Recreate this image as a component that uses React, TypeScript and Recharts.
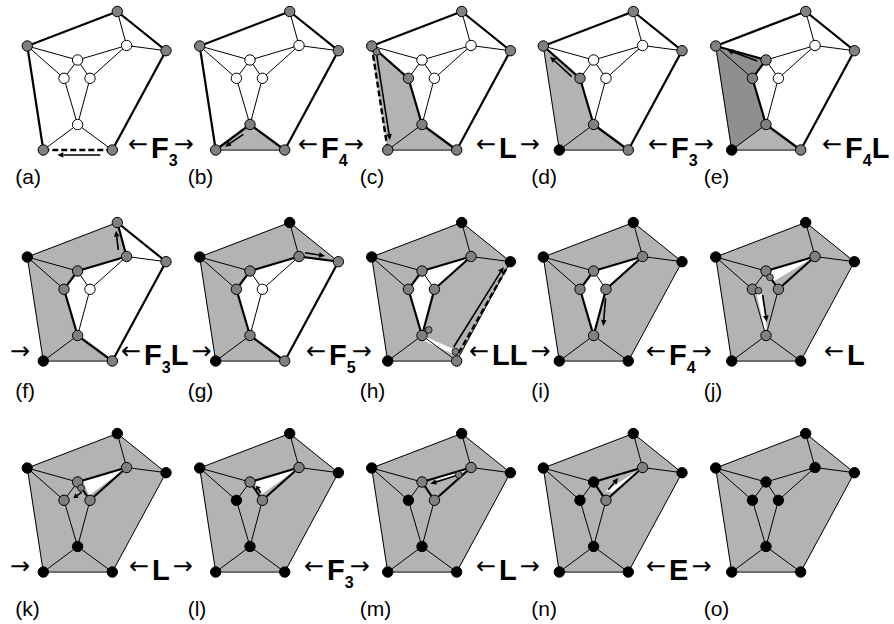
import { Scatter, ScatterChart, XAxis, YAxis } from "recharts";

const W = 894;
const H = 624;

// graph nodes: top, left, right, bottom-left, bottom-right,
// inner right, inner centre, inner left, inner mid, inner bottom
const nodeX = [74, -16, 122.7, 0, 69, 83.3, 34.3, 20.7, 46.7, 34.3];
const nodeY = [-138.5, -104, -99.3, 0, 0, -104.5, -90, -71.7, -71.7, -25.5];

const edges = [
  [1, 0], [0, 2], [2, 4], [4, 3], [3, 1], [0, 5], [2, 5], [5, 6], [1, 6],
  [1, 7], [6, 7], [6, 8], [5, 8], [7, 9], [8, 9], [9, 3], [9, 4],
];

const faces = [
  [1, 0, 5, 6], [0, 2, 5], [1, 6, 7], [6, 5, 8],
  [6, 8, 9, 7], [5, 2, 4, 9, 8], [1, 7, 9, 3], [3, 9, 4],
];

// panel origin = bottom-left node
const colX = [43.3, 215.7, 387.7, 559.3, 731.7];
const rowY = [150, 361, 572];

const panelLabels = ["(a)", "(b)", "(c)", "(d)", "(e)", "(f)", "(g)", "(h)", "(i)", "(j)", "(k)", "(l)", "(m)", "(n)", "(o)"];
const labelY = [184, 398, 616];

// g = gray, w = white, b = black, in node order
const nodeStates = [
  "gggggwwwww", "gggggwwwwg", "gggggwwgwg", "gggbgwwgwg", "gggbgwggwg",
  "gbgbggggwg", "bbgbggggwg", "bbbbgggggg", "bbbbbggggg", "bbbbbggggg",
  "bbbbbggggb", "bbbbbggbgb", "bbbbbggbgb", "bbbbbgbbgb", "bbbbbbbbbb",
];

type Ref = number | [number, number];

const hull: Ref[] = [1, 0, 2, 4, 3];
const shadeRefs: Ref[][] = [
  [], [3, 9, 4], [1, 7, 9, 4, 3], [1, 7, 9, 4, 3], [1, 6, 7, 9, 4, 3],
  [1, 0, 5, 6, 7, 9, 4, 3], [1, 0, 2, 5, 6, 7, 9, 4, 3], hull, hull, hull,
  hull, hull, hull, hull, hull,
];
const darkRefs: Ref[][] = [[], [], [], [], [1, 6, 7, 9, 3], [], [], [], [], [], [], [], [], [], []];

const holeRefs: Ref[][][] = [
  [], [], [], [], [], [], [],
  [[6, 5, 8], [6, 8, 9, 7], [9, [67, -11], [66, -7], [33, -22]]],
  [[6, 5, 8], [6, 8, 9, 7]],
  [[6, 5, [42, -80]], [[25, -69], [29, -69], [35, -31], [33, -31]]],
  [[[40, -91], 5, [46, -77]]],
  [[[38, -91], 5, [46, -78]]],
  [[[47, -92], 5, [68, -96]]],
  [[[47, -81], 5, [53, -80]]],
  [],
];

const smallNodes: [number, number][][] = [
  [], [], [[-11, -98]], [], [], [], [], [[67.7, -9.3], [41, -31]], [],
  [[38.3, -83.7], [26.7, -70.3]], [[37.7, -84]], [], [[71, -97.3]], [], [],
];

const arrowRefs: [number, number][][] = [
  [[57, 5], [14, 5]], [[27.6, -15.7], [9.3, -3.3]], [[-11, -95], [2.3, -10]],
  [[12.4, -73.3], [-9.3, -93.3]], [[25.6, -89], [-4.4, -100]], [[75, -111], [72.7, -130.3]],
  [[89.3, -108.3], [109.3, -105]], [[66, -14], [116, -94]], [[46.3, -62.7], [44, -35]],
  [[31, -66], [35, -39.3]], [[38.3, -79.7], [30, -73.7]], [[45, -79], [40.7, -86.3]],
  [[69.3, -96.7], [42.7, -88.3]], [[49, -82.3], [59, -94]], [],
];

const dashedRefs: Ref[][] = [[3, 4], [], [1, 3], [], [], [], [], [[71, -8], 2], [], [], [], [], [], [], []];

// faces still unexplored, used for the frontier edges
const openFaces = [
  [0, 1, 2, 3, 4, 5, 6, 7], [0, 1, 2, 3, 4, 5, 6], [0, 1, 2, 3, 4, 5], [0, 1, 2, 3, 4, 5],
  [0, 1, 3, 4, 5], [1, 3, 4, 5], [3, 4, 5], [3, 4], [3, 4], [3], [3], [3], [3], [3], [],
];

// operation labels between panels
const opRow = [0, 0, 0, 0, 0, 1, 1, 1, 1, 1, 1, 2, 2, 2, 2, 2];
const opX = [152, 322, 500, 672, 846, 10, 145, 330, 493, 670, 848, 10, 153, 328, 500, 670];
const opMain = ["F", "F", "L", "F", "F", "", "F", "F", "LL", "F", "L", "", "L", "F", "L", "E"];
const opSub = ["3", "4", "", "3", "4", "", "3", "5", "", "4", "", "", "", "3", "", ""];
const opTail = ["", "", "", "", "L", "", "L", "", "", "", "", "", "", "", "", ""];
const opLeft = [1, 1, 1, 1, 1, 0, 1, 1, 1, 1, 1, 0, 1, 1, 1, 1];
const opRight = [1, 1, 1, 1, 0, 1, 1, 1, 1, 1, 0, 1, 1, 1, 1, 1];
const opBaseline = [158, 365, 580];

const FONT = "'Liberation Sans', Arial, sans-serif";
const ARROW_FONT = "'DejaVu Sans', sans-serif";
const GRAY = "#b3b3b3";

const toPoint = (panel: number, ref: Ref) => {
  const ox = colX[panel % 5];
  const oy = rowY[Math.floor(panel / 5)];
  return typeof ref === "number"
    ? { x: ox + nodeX[ref], y: oy + nodeY[ref] }
    : { x: ox + ref[0], y: oy + ref[1] };
};

const edgeFaces = edges.map(([a, b]) =>
  faces
    .map((f, i) => ({ f, i }))
    .filter(({ f }) =>
      f.some((v, k) => {
        const w = f[(k + 1) % f.length];
        return (v === a && w === b) || (v === b && w === a);
      })
    )
    .map((o) => o.i)
);

const edgeClass = (e: number, open: number[]) => {
  const [a, b] = edges[e];
  const fs = edgeFaces[e];
  const nOpen = fs.filter((f) => open.includes(f)).length;
  if (fs.length === 1) {
    if (nOpen === 1) return "thick";
    return (a === 4 && b === 3) || (a === 3 && b === 4) ? "root" : "thin";
  }
  return nOpen === 1 ? "thick" : "thin";
};

const noDot = () => <g />;

const pathOf = (pts: { x: number; y: number }[]) =>
  pts.map((p, i) => `${i ? "L" : "M"}${p.x},${p.y}`).join(" ") + " Z";

const polygonLine = (fill: string) => (p: any) => (
  <path d={pathOf(p.points || [])} fill={fill} stroke={fill} strokeWidth={0.6} />
);

const segmentLine = (stroke: string, width: number, dash?: string) => (p: any) => {
  const pts = p.points || [];
  const out = [];
  for (let i = 0; i + 1 < pts.length; i += 2) {
    out.push(
      <line key={i} x1={pts[i].x} y1={pts[i].y} x2={pts[i + 1].x} y2={pts[i + 1].y}
        stroke={stroke} strokeWidth={width} strokeDasharray={dash} />
    );
  }
  return <g>{out}</g>;
};

const arrowLine = (p: any) => {
  const pts = p.points || [];
  const out = [];
  for (let i = 0; i + 1 < pts.length; i += 2) {
    const a = pts[i];
    const b = pts[i + 1];
    const len = Math.hypot(b.x - a.x, b.y - a.y) || 1;
    const ux = (b.x - a.x) / len;
    const uy = (b.y - a.y) / len;
    const hl = Math.min(6, len * 0.45);
    const hw = 2.8;
    const bx = b.x - ux * hl;
    const by = b.y - uy * hl;
    out.push(
      <g key={i}>
        <line x1={a.x} y1={a.y} x2={bx} y2={by} stroke="#000" strokeWidth={1.6} />
        <path d={`M${b.x},${b.y} L${bx - uy * hw},${by + ux * hw} L${bx + uy * hw},${by - ux * hw} Z`} fill="#000" />
      </g>
    );
  }
  return <g>{out}</g>;
};

const stateFill: Record<string, string> = { g: "#808080", w: "#ffffff", b: "#000000" };

const NodeDot = (props: any) => {
  const { cx, cy, payload } = props;
  return (
    <circle cx={cx} cy={cy} r={payload.small ? 3.4 : 5.2} fill={stateFill[payload.s]}
      stroke="#000" strokeWidth={payload.small ? 0.8 : 1} />
  );
};

const PanelLabel = (props: any) => (
  <text x={props.cx} y={props.cy} fontFamily={FONT} fontSize={21} fill="#000">
    {props.payload.label}
  </text>
);

const OpLabel = (props: any) => {
  const { cx, cy, payload } = props;
  const spans = [];
  let cur = 0;
  const push = (txt: string, size: number, target: number, dx: number, key: string, arrow = false) => {
    spans.push(
      <tspan key={key} fontSize={size} dx={dx} dy={target - cur}
        fontFamily={arrow ? ARROW_FONT : FONT} fontWeight={arrow ? "normal" : "bold"}>
        {txt}
      </tspan>
    );
    cur = target;
  };
  if (payload.left) push("\u2190", 24, -6, 0, "l", true);
  if (payload.main) push(payload.main, 29, 0, payload.left ? 3 : 0, "m");
  if (payload.sub) push(payload.sub, 16, 8, 0, "s");
  if (payload.tail) push(payload.tail, 29, 0, 0, "t");
  if (payload.right)
    push("\u2192", 24, -6, payload.sub && !payload.tail ? -4 : payload.main ? 3 : 0, "r", true);
  return (
    <text x={payload.left ? cx - 24 : cx} y={cy} fill="#000">
      {spans}
    </text>
  );
};

function panelItems(p: number) {
  const items = [];
  const common = { isAnimationActive: false, legendType: "none" as const, shape: noDot, lineType: "joint" as const };

  if (shadeRefs[p].length) {
    items.push(
      <Scatter key={`s${p}`} {...common} data={shadeRefs[p].map((r) => toPoint(p, r))} line={polygonLine(GRAY)} />
    );
  }
  if (darkRefs[p].length) {
    items.push(
      <Scatter key={`d${p}`} {...common} data={darkRefs[p].map((r) => toPoint(p, r))} line={polygonLine("#8f8f8f")} />
    );
  }
  holeRefs[p].forEach((h, i) => {
    items.push(
      <Scatter key={`h${p}-${i}`} {...common} data={h.map((r) => toPoint(p, r))} line={polygonLine("#ffffff")} />
    );
  });

  const dashed = dashedRefs[p];
  const groups: Record<string, { x: number; y: number }[]> = { thin: [], thick: [], root: [] };
  edges.forEach(([a, b], e) => {
    const isDashed =
      dashed.length === 2 &&
      ((dashed[0] === a && dashed[1] === b) || (dashed[0] === b && dashed[1] === a));
    if (isDashed) return;
    groups[edgeClass(e, openFaces[p])].push(toPoint(p, a), toPoint(p, b));
  });
  items.push(<Scatter key={`et${p}`} {...common} data={groups.thin} line={segmentLine("#000", 1)} />);
  if (groups.thick.length)
    items.push(<Scatter key={`ek${p}`} {...common} data={groups.thick} line={segmentLine("#000", 2.2)} />);
  if (groups.root.length)
    items.push(<Scatter key={`er${p}`} {...common} data={groups.root} line={segmentLine("#6e6e6e", 2)} />);
  if (dashed.length)
    items.push(
      <Scatter key={`ed${p}`} {...common} data={dashed.map((r) => toPoint(p, r))} line={segmentLine("#000", 2.4, "6 3")} />
    );

  if (arrowRefs[p].length)
    items.push(
      <Scatter key={`a${p}`} {...common} data={arrowRefs[p].map((r) => toPoint(p, r))} line={arrowLine} />
    );

  const nodes = nodeX.map((_, i) => ({ ...toPoint(p, i), s: nodeStates[p][i], small: false }));
  const extra = smallNodes[p].map((r) => ({ ...toPoint(p, r), s: "g", small: true }));
  items.push(
    <Scatter key={`n${p}`} isAnimationActive={false} legendType="none" data={[...nodes, ...extra]} shape={NodeDot} />
  );
  return items;
}

const labelData = panelLabels.map((label, i) => ({
  x: colX[i % 5] - 28,
  y: labelY[Math.floor(i / 5)],
  label,
}));

const opData = opX.map((x, i) => ({
  x,
  y: opBaseline[opRow[i]],
  main: opMain[i],
  sub: opSub[i],
  tail: opTail[i],
  left: opLeft[i],
  right: opRight[i],
}));

export default function App() {
  return (
    <div style={{ position: "absolute", left: 0, top: 0, width: W, height: H, background: "#fff" }}>
      <ScatterChart width={W} height={H} margin={{ top: 0, right: 0, bottom: 0, left: 0 }}>
        <XAxis type="number" dataKey="x" domain={[0, W]} hide />
        <YAxis type="number" dataKey="y" domain={[0, H]} reversed hide />
        {panelLabels.map((_, p) => panelItems(p))}
        <Scatter isAnimationActive={false} legendType="none" data={labelData} shape={PanelLabel} />
        <Scatter isAnimationActive={false} legendType="none" data={opData} shape={OpLabel} />
      </ScatterChart>
    </div>
  );
}
